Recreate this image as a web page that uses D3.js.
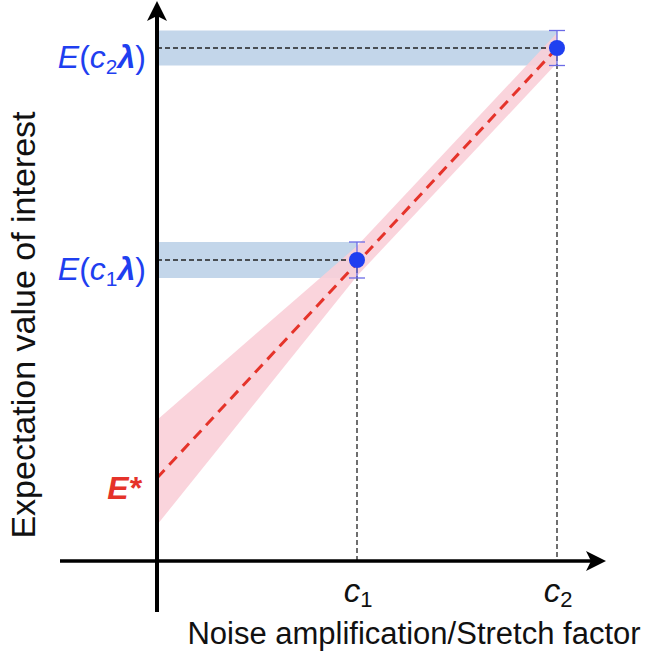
<!DOCTYPE html>
<html>
<head>
<meta charset="utf-8">
<script src="https://cdn.jsdelivr.net/npm/d3@7"></script>
<style>
  body { margin: 0; background: #fff; }
  svg { display: block; font-family: "Liberation Sans", Arial, sans-serif; }
</style>
</head>
<body>
<svg id="chart" width="654" height="652"></svg>
<script>
// stretch factors (c1, c2) and measured expectation values
const stretch = [1, 2];
const stretchLabels = ["1", "2"];
const measured = [3.01, 5.13];
const measuredErr = [0.18, 0.175];
// extrapolated zero-noise value E*
const eStar = 0.83;
// confidence band of the fit, at c = 0, c1, c2
const bandC = [0, 1, 2];
const bandLow = [0.36, 2.85, 4.98];
const bandHigh = [1.41, 3.15, 5.28];

const svg = d3.select("#chart");

// scales: origin of the axes at (157, 561)
const x = d3.scaleLinear().domain([0, 2]).range([157, 557]);
const y = d3.scaleLinear().domain([0, 5]).range([561, 61]);

const blue = "#1f3ff0";
const red = "#e5332a";

// light blue bands for the measured values
svg.append("g")
  .selectAll("rect")
  .data(stretch)
  .enter()
  .append("rect")
  .attr("x", x(0))
  .attr("width", d => x(d) - x(0))
  .attr("y", (d, i) => y(measured[i] + measuredErr[i]))
  .attr("height", (d, i) => y(measured[i] - measuredErr[i]) - y(measured[i] + measuredErr[i]))
  .style("fill", "#c3d6ea");

// pink fit band
let bandPts = bandC.map((c, i) => [x(c), y(bandHigh[i])])
  .concat(bandC.map((c, i) => [x(c), y(bandLow[i])]).reverse());
svg.append("path")
  .attr("d", d3.line()(bandPts) + "Z")
  .style("fill", "#f9cfd8")
  .style("opacity", 0.9);

// dashed guide lines to the axes
let guides = svg.append("g")
  .style("stroke", "#222")
  .style("stroke-width", 1.3)
  .style("stroke-dasharray", "5,3");
stretch.forEach((c, i) => {
  guides.append("line")
    .attr("x1", x(0)).attr("x2", x(c))
    .attr("y1", y(measured[i])).attr("y2", y(measured[i]));
  guides.append("line")
    .attr("x1", x(c)).attr("x2", x(c))
    .attr("y1", y(measured[i])).attr("y2", y(0));
});

// red dashed extrapolation line
svg.append("line")
  .attr("x1", x(0)).attr("y1", y(eStar))
  .attr("x2", x(stretch[1])).attr("y2", y(measured[1]))
  .style("stroke", red)
  .style("stroke-width", 3)
  .style("stroke-dasharray", "11,7");

// error bars
let err = svg.append("g")
  .style("stroke", "#6b6be6")
  .style("stroke-width", 1.3);
stretch.forEach((c, i) => {
  let top = y(measured[i] + measuredErr[i]);
  let bot = y(measured[i] - measuredErr[i]);
  err.append("line").attr("x1", x(c)).attr("x2", x(c)).attr("y1", top).attr("y2", bot);
  err.append("line").attr("x1", x(c) - 8).attr("x2", x(c) + 8).attr("y1", top).attr("y2", top);
  err.append("line").attr("x1", x(c) - 8).attr("x2", x(c) + 8).attr("y1", bot).attr("y2", bot);
});

// measured points
svg.append("g")
  .selectAll("circle")
  .data(stretch)
  .enter()
  .append("circle")
  .attr("cx", d => x(d))
  .attr("cy", (d, i) => y(measured[i]))
  .attr("r", 8)
  .style("fill", blue);

// axes with arrow heads
const xEnd = x.invert(606), xStart = x.invert(60);
const yEnd = y.invert(1), yStart = y.invert(612);
svg.append("line")
  .attr("x1", x(xStart)).attr("x2", x(xEnd) - 10)
  .attr("y1", y(0)).attr("y2", y(0))
  .style("stroke", "#000").style("stroke-width", 3.5);
svg.append("line")
  .attr("x1", x(0)).attr("x2", x(0))
  .attr("y1", y(yStart)).attr("y2", y(yEnd) + 10)
  .style("stroke", "#000").style("stroke-width", 4);

function arrowHead(tx, ty, angle) {
  // tip at (tx, ty), pointing along angle (radians)
  let pts = [[0, 0], [-20, -10], [-15, 0], [-20, 10]];
  let c = Math.cos(angle), s = Math.sin(angle);
  let p = pts.map(([a, b]) => [tx + a * c - b * s, ty + a * s + b * c]);
  svg.append("path").attr("d", d3.line()(p) + "Z").style("fill", "#000");
}
arrowHead(x(xEnd), y(0), 0);
arrowHead(x(0), y(yEnd), -Math.PI / 2);

// labels of the measured values
stretch.forEach((c, i) => {
  let t = svg.append("text")
    .attr("x", 146)
    .attr("y", y(measured[i]) + 20)
    .attr("text-anchor", "end")
    .style("font-size", "32px")
    .style("fill", blue);
  t.append("tspan").style("font-style", "italic").text("E");
  t.append("tspan").text("(");
  t.append("tspan").style("font-style", "italic").text("c");
  t.append("tspan").attr("dy", 6).style("font-size", "21px").text(stretchLabels[i]);
  t.append("tspan").attr("dy", -6).style("font-style", "italic").style("font-weight", "bold").text("λ");
  t.append("tspan").text(")");
});

// E* label
svg.append("text")
  .attr("x", 141)
  .attr("y", y(eStar) + 21)
  .attr("text-anchor", "end")
  .style("font-size", "32px")
  .style("font-style", "italic")
  .style("font-weight", "bold")
  .style("fill", red)
  .text("E*");

// c1, c2 tick labels
stretch.forEach((c, i) => {
  let t = svg.append("text")
    .attr("x", x(c) + 1)
    .attr("y", 602)
    .attr("text-anchor", "middle")
    .style("font-size", "33px")
    .style("fill", "#111");
  t.append("tspan").style("font-style", "italic").text("c");
  t.append("tspan").attr("dy", 5).style("font-size", "22px").text(stretchLabels[i]);
});

// axis titles
svg.append("text")
  .attr("x", 414)
  .attr("y", 644)
  .attr("text-anchor", "middle")
  .style("font-size", "31px")
  .style("fill", "#111")
  .text("Noise amplification/Stretch factor");

svg.append("text")
  .attr("transform", "translate(35,325) rotate(-90)")
  .attr("text-anchor", "middle")
  .style("font-size", "34px")
  .style("fill", "#111")
  .text("Expectation value of interest");
</script>
</body>
</html>
